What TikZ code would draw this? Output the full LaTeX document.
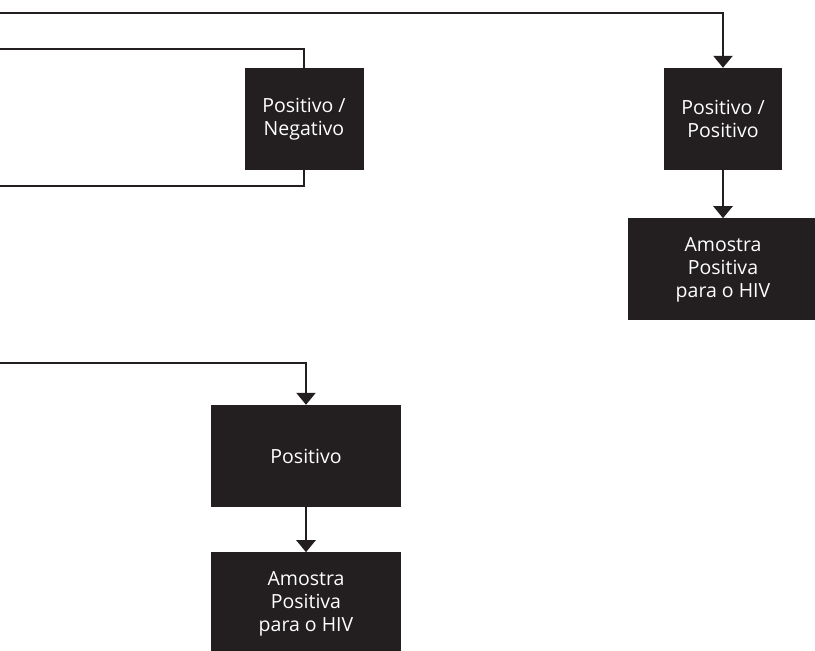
\documentclass[tikz,border=0pt]{standalone}
\usepackage{fontspec}
\setmainfont{Open Sans}
\usetikzlibrary{positioning, arrows.meta}
\definecolor{boxblack}{HTML}{231F20}
\definecolor{linegray}{HTML}{231F20}

\begin{document}
\begin{tikzpicture}[x=1pt, y=-1pt,
    every node/.style={font=\fontsize{19.5}{23}\selectfont},
    resbox/.style={fill=boxblack, text=white, align=center, minimum height=102pt, inner sep=0pt},
    flow/.style={draw=linegray, line width=2.5pt},
    flowarrow/.style={flow, -{Triangle[width=19pt, length=12pt]}}]
  \useasboundingbox (0,0) rectangle (815,651);
  % result boxes
  \node[resbox, minimum width=119pt] (posneg) at (304,119) {Positivo /\\Negativo};
  \node[resbox, minimum width=118pt] (pospos) at (723,119) {Positivo /\\Positivo};
  \node[resbox, minimum width=190pt, below=48pt of pospos] (hivright) {Amostra\\Positiva\\para o HIV};
  \node[resbox, minimum width=190pt] (positivo) at (306,456) {Positivo};
  \node[resbox, minimum width=190pt, below=45pt of positivo] (hivbottom) {Amostra\\Positiva\\para o HIV};
  % incoming lines from the left
  \coordinate (inA) at (0,13);
  \coordinate (inB) at (0,49);
  \coordinate (inC) at (0,186);
  \coordinate (inD) at (0,363);
  \draw[flowarrow] (inA) -| (pospos);
  \draw[flow] (inB) -| (posneg);
  \draw[flow] (inC) -| (posneg);
  \draw[flowarrow] (inD) -| (positivo);
  \draw[flowarrow] (pospos) -- (hivright);
  \draw[flowarrow] (positivo) -- (hivbottom);
\end{tikzpicture}
\end{document}
